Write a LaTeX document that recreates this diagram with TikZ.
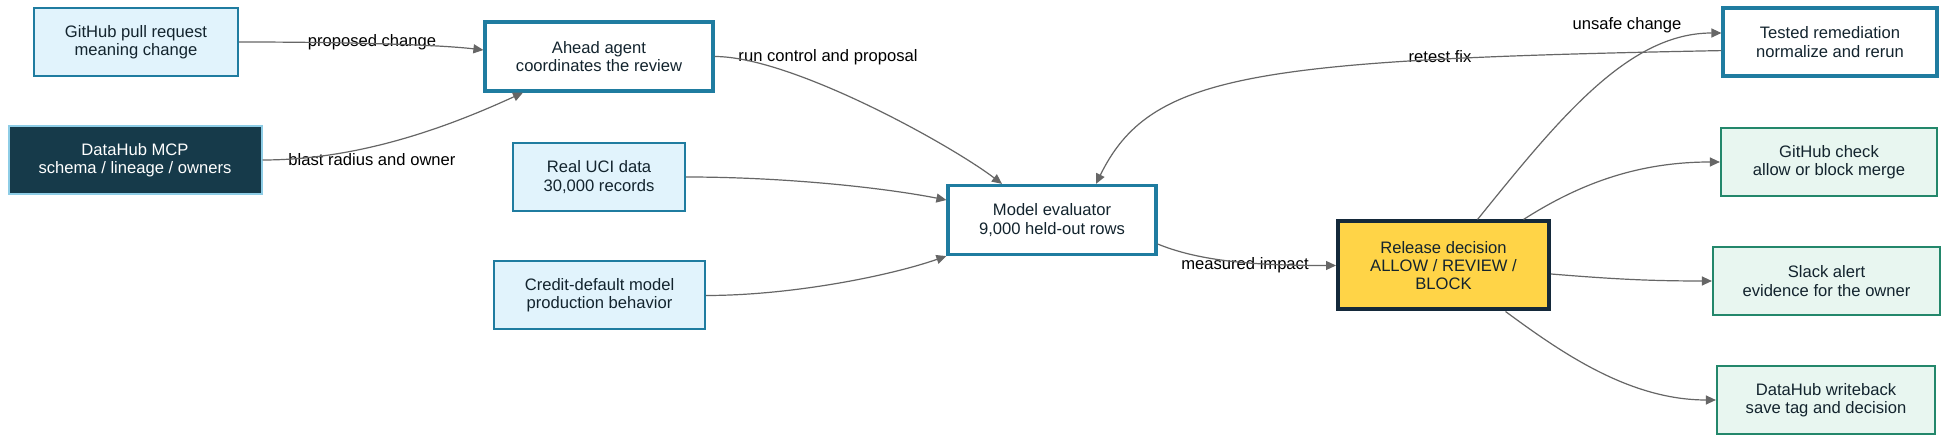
\documentclass[tikz,border=0pt]{standalone}
\usepackage{fontspec}
\setmainfont{Liberation Sans}
\usetikzlibrary{arrows.meta}
\definecolor{srcfill}{HTML}{E1F3FC}
\definecolor{boxblue}{HTML}{1F7CA0}
\definecolor{mcpfill}{HTML}{163A4A}
\definecolor{mcpedge}{HTML}{8ECDE6}
\definecolor{gatefill}{HTML}{FFD447}
\definecolor{gateedge}{HTML}{14293A}
\definecolor{outfill}{HTML}{E8F6F0}
\definecolor{outedge}{HTML}{23876B}
\definecolor{edgegray}{HTML}{666666}
\definecolor{inktext}{HTML}{13242E}

\begin{document}
\begin{tikzpicture}[x=0.5pt,y=-0.5pt,
  box/.style={draw, align=center, inner sep=0pt, text=inktext,
    font=\fontsize{8.3pt}{9.2pt}\selectfont},
  srcbox/.style={box, fill=srcfill, draw=boxblue, line width=1pt},
  agentbox/.style={box, fill=white, draw=boxblue, line width=1.6pt},
  outbox/.style={box, fill=outfill, draw=outedge, line width=1.1pt},
  flow/.style={draw=edgegray, line width=0.6pt, -{Triangle[length=5pt,width=4.5pt]}},
  lbl/.style={inner sep=0pt, text=black, font=\fontsize{8.3pt}{9.2pt}\selectfont}]
  \fill[white] (0,0) rectangle (1950,442);
  \useasboundingbox (0,0) rectangle (1950,442);

  % inputs
  \node[srcbox, minimum width=102pt, minimum height=34pt] (ghpr) at (136,42) {GitHub pull request\\meaning change};
  \node[box, fill=mcpfill, draw=mcpedge, line width=1pt, text=white,
    minimum width=126.5pt, minimum height=34pt] (mcp) at (135,160) {DataHub MCP\\schema / lineage / owners};
  \node[srcbox, minimum width=86pt, minimum height=34pt] (uci) at (599,177) {Real UCI data\\30,000 records};
  \node[srcbox, minimum width=105.5pt, minimum height=34pt] (credit) at (599.5,295.5) {Credit-default model\\production behavior};

  % agents
  \node[agentbox, minimum width=114pt, minimum height=34.5pt] (agent) at (599,56.5) {Ahead agent\\coordinates the review};
  \node[agentbox, minimum width=104pt, minimum height=34.5pt] (eval) at (1052,220) {Model evaluator\\9,000 held-out rows};
  \node[agentbox, minimum width=107pt, minimum height=34pt] (fix) at (1830,42) {Tested remediation\\normalize and rerun};

  % decision
  \node[box, fill=gatefill, draw=gateedge, line width=2pt,
    minimum width=105.5pt, minimum height=44pt] (gate) at (1443.5,265.5) {Release decision\\ALLOW / REVIEW /\\BLOCK};

  % outputs
  \node[outbox, minimum width=108pt, minimum height=34pt] (check) at (1829,162) {GitHub check\\allow or block merge};
  \node[outbox, minimum width=113.5pt, minimum height=34pt] (slack) at (1826.5,281) {Slack alert\\evidence for the owner};
  \node[outbox, minimum width=109pt, minimum height=34pt] (writeback) at (1826,400) {DataHub writeback\\save tag and decision};

  % edge labels
  \node[lbl] (lpropose) at (372,42) {proposed change};
  \node[lbl] (lblast) at (372,160) {blast radius and owner};
  \node[lbl] (lrun) at (828,57) {run control and proposal};
  \node[lbl] (limpact) at (1245,265) {measured impact};
  \node[lbl] (lretest) at (1440,57) {retest fix};
  \node[lbl] (lunsafe) at (1627,25) {unsafe change};

  % connectors
  \draw[flow] (ghpr.east) .. controls +(90,0) and +(-51,-6) .. ([yshift=3.25pt]agent.west);
  \draw[flow] (mcp.east) .. controls +(98,0) and +(-73,33.5) .. ([xshift=-38pt]agent.south);
  \draw[flow] (agent.east) .. controls +(77,0) and +(-52,-39.5) .. ([xshift=-25pt]eval.north);
  \draw[flow] (uci.east) .. controls +(95,0) and +(-67,-13) .. ([yshift=10pt]eval.west);
  \draw[flow] (credit.east) .. controls +(85,0) and +(-57.5,20) .. (eval.south west);
  \draw[flow] ([yshift=-12pt]eval.east) .. controls +(44,18) and +(-78,0) .. (gate.west);
  \draw[flow] ([yshift=-4.3pt]fix.west) .. controls +(-471,9) and +(54,-110) .. ([xshift=22pt]eval.north);
  \draw[flow] ([xshift=17pt]gate.north) .. controls +(82,-101.5) and +(-93,0) .. ([yshift=4.5pt]fix.west);
  \draw[flow] ([xshift=40pt]gate.north) .. controls +(57,-36.5) and +(-81,0) .. (check.west);
  \draw[flow] ([yshift=-4.25pt]gate.east) .. controls +(61,5) and +(-63,0) .. (slack.west);
  \draw[flow] ([xshift=31pt]gate.south) .. controls +(55,40.5) and +(-87,0) .. (writeback.west);
\end{tikzpicture}
\end{document}
